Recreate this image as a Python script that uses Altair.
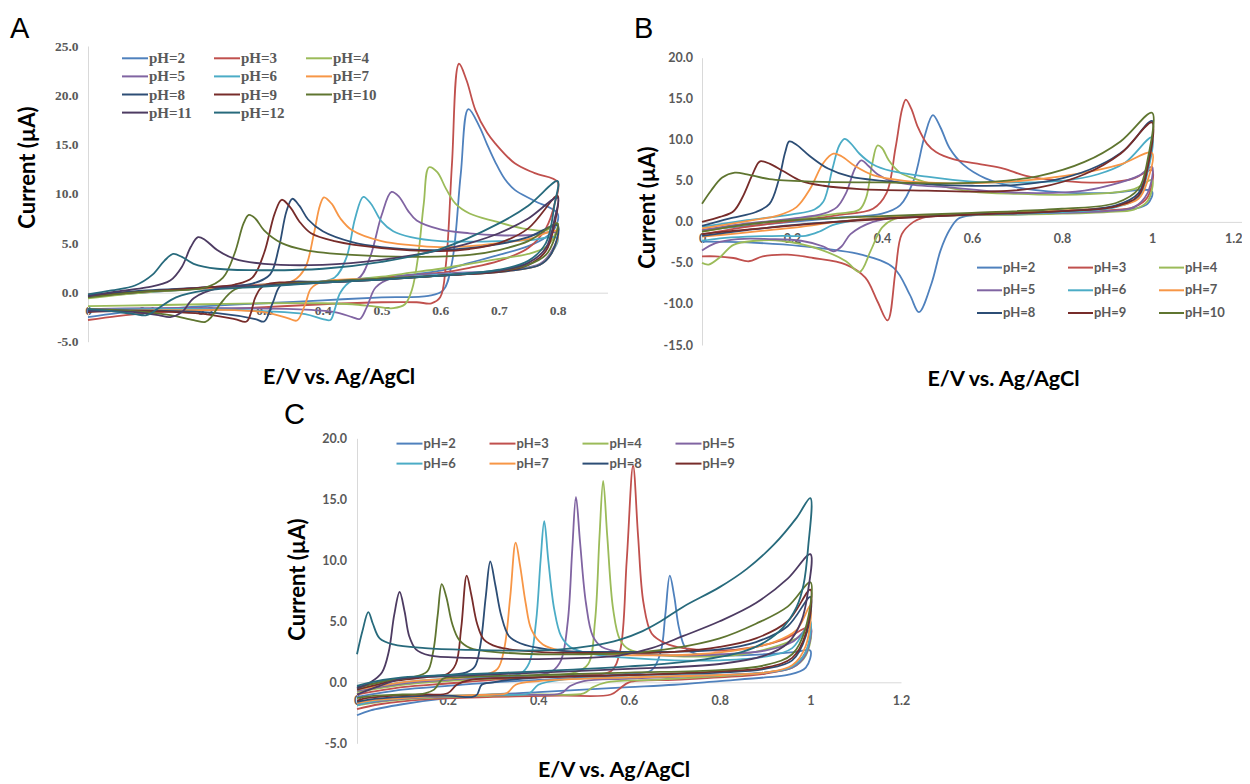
import altair as alt
import pandas as pd

PH_LABELS = ["pH=2", "pH=3", "pH=4", "pH=5", "pH=6", "pH=7", "pH=8", "pH=9",
             "pH=10", "pH=11", "pH=12"]
PH_COLORS = ["#4F81BD", "#C0504D", "#9BBB59", "#8064A2", "#4BACC6", "#F79646",
             "#2C4D75", "#772C2A", "#5F7530", "#4D3B62", "#276A7C"]

# ---------------- Panel A: (E / V, I / uA) in scan order ----------------
A_PH2 = [(0, -2.5), (0.05, -2.1), (0.1, -1.8), (0.2, -1.4), (0.3, -1.1), (0.4, -0.8), (0.5, -0.5),
         (0.58, -0.35), (0.605, 0.2), (0.62, 3), (0.635, 12), (0.648, 18.6), (0.667, 16.8), (0.68, 15),
         (0.694, 13.2), (0.71, 11.5), (0.727, 10.4), (0.76, 9.3), (0.8, 8.0), (0.795, 6.5), (0.78, 5.6),
         (0.75, 4.7), (0.7, 3.8), (0.65, 3.0), (0.6, 2.2), (0.5, 1.5), (0.4, 1.1), (0.3, 0.7), (0.2, 0.4),
         (0.1, 0.0), (0, -0.4)]
A_PH3 = [(0, -2.8), (0.05, -2.4), (0.1, -2.1), (0.2, -1.8), (0.3, -1.5), (0.4, -1.2), (0.5, -1.0),
         (0.56, -1.0), (0.585, -1.1), (0.6, -0.5), (0.61, 3), (0.62, 13), (0.632, 23.2), (0.645, 21.5),
         (0.66, 18.5), (0.68, 16.2), (0.694, 15.1), (0.727, 13.1), (0.761, 12.1), (0.8, 11.2), (0.795, 9.0),
         (0.78, 6.5), (0.75, 4.5), (0.7, 3.2), (0.65, 2.5), (0.6, 2.0), (0.5, 1.5), (0.4, 1.1), (0.3, 0.8),
         (0.2, 0.5), (0.1, 0.1), (0, -0.2)]
A_PH4 = [(0, -1.4), (0.1, -1.3), (0.2, -1.2), (0.3, -1.1), (0.4, -1.1), (0.45, -1.2), (0.49, -1.45),
         (0.52, -1.6), (0.54, -1.2), (0.552, 0.3), (0.562, 3.5), (0.572, 9), (0.581, 12.7), (0.595, 12.2),
         (0.61, 10.5), (0.626, 9.0), (0.65, 8.0), (0.694, 7.2), (0.74, 6.5), (0.78, 6.3), (0.8, 7.0),
         (0.795, 5.8), (0.78, 4.6), (0.75, 3.9), (0.7, 3.4), (0.65, 2.9), (0.6, 2.4), (0.55, 2.0),
         (0.5, 1.6), (0.4, 1.1), (0.3, 0.8), (0.2, 0.4), (0.1, 0.0), (0, -0.6)]
A_PH5 = [(0, -0.4), (0.1, 0.1), (0.2, 0.5), (0.3, 0.8), (0.4, 1.1), (0.46, 1.4), (0.48, 3.5),
         (0.5, 7.8), (0.517, 10.2), (0.53, 9.7), (0.545, 8.3), (0.56, 7.3), (0.6, 6.4), (0.65, 6.0),
         (0.7, 5.8), (0.75, 5.8), (0.8, 6.0), (0.79, 4.2), (0.77, 2.9), (0.72, 2.3), (0.6, 1.9),
         (0.52, 1.5), (0.49, 0.5), (0.475, -1.5), (0.463, -2.7), (0.45, -2.5), (0.42, -2.0), (0.35, -1.7),
         (0.25, -1.6), (0.1, -1.6), (0, -1.7)]
A_PH6 = [(0, -0.4), (0.1, 0.1), (0.2, 0.4), (0.3, 0.7), (0.38, 1.0), (0.42, 1.5), (0.44, 3.5),
         (0.455, 7.5), (0.469, 9.7), (0.482, 9.0), (0.5, 7.2), (0.52, 6.2), (0.55, 5.6), (0.6, 5.2),
         (0.7, 5.2), (0.75, 5.3), (0.8, 5.5), (0.79, 4.0), (0.77, 2.8), (0.72, 2.3), (0.6, 1.8),
         (0.5, 1.4), (0.45, 1.2), (0.43, 0.0), (0.42, -1.8), (0.413, -2.8), (0.4, -2.7), (0.37, -2.2),
         (0.3, -1.9), (0.2, -1.7), (0.1, -1.7), (0, -1.8)]
A_PH7 = [(0, -0.3), (0.1, 0.1), (0.2, 0.4), (0.3, 0.8), (0.35, 1.2), (0.37, 2.5), (0.385, 6.0),
         (0.395, 8.8), (0.402, 9.65), (0.415, 9.0), (0.43, 7.5), (0.45, 6.3), (0.5, 5.2), (0.55, 4.8),
         (0.6, 4.6), (0.65, 4.7), (0.7, 5.0), (0.75, 5.4), (0.8, 6.2), (0.79, 4.0), (0.77, 2.8),
         (0.72, 2.2), (0.6, 1.7), (0.5, 1.4), (0.4, 1.1), (0.38, 0.4), (0.37, -1.2), (0.356, -2.85),
         (0.34, -2.6), (0.3, -2.0), (0.25, -1.8), (0.15, -1.8), (0.05, -1.8), (0, -1.9)]
A_PH8 = [(0, -0.3), (0.1, 0.2), (0.2, 0.5), (0.28, 0.9), (0.31, 1.8), (0.325, 4.5), (0.338, 8.2),
         (0.348, 9.5), (0.36, 8.8), (0.375, 7.4), (0.4, 6.2), (0.45, 5.1), (0.5, 4.6), (0.6, 4.3),
         (0.7, 4.9), (0.75, 5.6), (0.8, 6.8), (0.79, 4.0), (0.77, 2.8), (0.72, 2.2), (0.6, 1.7),
         (0.5, 1.4), (0.4, 1.1), (0.33, 0.8), (0.315, -1.0), (0.3, -2.95), (0.285, -2.7), (0.22, -2.1),
         (0.15, -1.9), (0.05, -1.8), (0, -1.8)]
A_PH9 = [(0, -0.4), (0.1, 0.1), (0.2, 0.5), (0.25, 0.8), (0.28, 1.5), (0.3, 4), (0.318, 8),
         (0.33, 9.4), (0.345, 8.6), (0.36, 7.2), (0.38, 6.0), (0.42, 5.2), (0.5, 4.5), (0.6, 4.2),
         (0.65, 4.4), (0.7, 5.0), (0.75, 6.5), (0.8, 9.8), (0.795, 7), (0.78, 4.2), (0.75, 2.8),
         (0.7, 2.1), (0.6, 1.7), (0.5, 1.3), (0.4, 1.0), (0.3, 0.7), (0.285, -0.5), (0.278, -2.0),
         (0.27, -2.95), (0.25, -2.7), (0.2, -2.2), (0.15, -2.0), (0.1, -1.9), (0.05, -1.9), (0, -2.0)]
A_PH10 = [(0, -0.5), (0.1, 0.1), (0.2, 0.5), (0.23, 1.5), (0.25, 4), (0.265, 7), (0.274, 7.86),
          (0.285, 7.5), (0.3, 6.3), (0.33, 5.0), (0.37, 4.3), (0.45, 3.8), (0.55, 3.6), (0.65, 3.8),
          (0.7, 4.3), (0.75, 5.2), (0.8, 7.0), (0.795, 5.5), (0.78, 3.8), (0.75, 2.8), (0.7, 2.2),
          (0.6, 1.7), (0.5, 1.4), (0.4, 1.1), (0.3, 0.7), (0.25, 0.3), (0.225, -1.2), (0.21, -2.5),
          (0.2, -3.0), (0.18, -2.8), (0.14, -2.3), (0.1, -2.0), (0.05, -1.8), (0, -1.7)]
A_PH11 = [(0, -0.4), (0.05, 0.1), (0.1, 0.5), (0.14, 1.2), (0.16, 2.6), (0.175, 4.6), (0.1875, 5.6),
          (0.2, 5.3), (0.22, 4.3), (0.25, 3.4), (0.3, 2.9), (0.4, 2.8), (0.5, 3.3), (0.6, 4.3),
          (0.65, 5.0), (0.7, 6.0), (0.75, 7.5), (0.8, 9.6), (0.795, 7.5), (0.78, 4.5), (0.75, 3.0),
          (0.7, 2.2), (0.6, 1.7), (0.5, 1.3), (0.4, 1.0), (0.3, 0.7), (0.22, 0.4), (0.18, -0.6),
          (0.16, -2.0), (0.14, -2.5), (0.12, -2.3), (0.08, -2.0), (0.04, -1.9), (0, -1.9)]
A_PH12 = [(0, -0.2), (0.04, 0.2), (0.08, 0.7), (0.11, 1.8), (0.13, 3.2), (0.145, 3.9), (0.16, 3.6),
          (0.18, 2.9), (0.22, 2.4), (0.3, 2.25), (0.4, 2.4), (0.5, 3.1), (0.6, 4.4), (0.7, 7.0),
          (0.75, 8.8), (0.8, 11.3), (0.795, 9), (0.78, 5), (0.75, 3.2), (0.7, 2.3), (0.6, 1.7),
          (0.5, 1.3), (0.4, 1.0), (0.3, 0.6), (0.2, 0.2), (0.15, -0.5), (0.12, -1.6), (0.1, -2.3),
          (0.08, -2.2), (0.04, -1.9), (0, -1.7)]

# ---------------- Panel B ----------------
B_PH2 = [(0, -1.0), (0.1, -0.5), (0.2, 0.0), (0.3, 0.5), (0.4, 1.0), (0.44, 2.0), (0.47, 5.0),
         (0.495, 10.5), (0.513, 13.0), (0.53, 11.5), (0.55, 9.0), (0.58, 7.0), (0.63, 5.3), (0.7, 4.2),
         (0.8, 3.6), (0.9, 3.5), (1.0, 3.7), (0.99, 2.2), (0.96, 1.6), (0.9, 1.3), (0.8, 1.1),
         (0.7, 0.9), (0.6, 0.8), (0.57, 0.4), (0.55, -1.0), (0.53, -3.5), (0.51, -7.5), (0.482, -11.0),
         (0.462, -8.9), (0.426, -5.6), (0.354, -4.0), (0.22, -2.95), (0.1, -2.5), (0, -2.4)]
B_PH3 = [(0, -1.5), (0.1, -0.6), (0.2, 0.1), (0.3, 0.8), (0.38, 1.6), (0.41, 3.5), (0.43, 9),
         (0.445, 13.8), (0.453, 14.9), (0.465, 13.8), (0.48, 11.5), (0.5, 9.5), (0.52, 8.5), (0.56, 7.6),
         (0.62, 7.0), (0.67, 6.5), (0.72, 5.6), (0.8, 5.0), (0.9, 4.8), (0.96, 5.3), (1.0, 6.3),
         (0.99, 3.0), (0.96, 1.8), (0.9, 1.4), (0.8, 1.1), (0.7, 1.0), (0.55, 0.8), (0.49, 0.5),
         (0.47, 0.0), (0.444, -1.5), (0.43, -6.0), (0.4125, -12.0), (0.39, -9.7), (0.363, -6.8),
         (0.32, -5.2), (0.247, -4.4), (0.19, -4.0), (0.135, -4.2), (0.104, -4.8), (0.07, -4.4),
         (0.03, -4.2), (0, -4.2)]
B_PH4 = [(0, -1.2), (0.1, -0.3), (0.2, 0.3), (0.3, 1.0), (0.35, 1.5), (0.365, 3.0), (0.378, 7.0),
         (0.39, 9.3), (0.4, 9.0), (0.415, 7.5), (0.44, 6.0), (0.47, 5.3), (0.52, 4.5), (0.6, 3.7),
         (0.7, 3.4), (0.8, 3.3), (0.9, 3.5), (0.96, 4.0), (1.0, 5.1), (0.99, 2.5), (0.96, 1.5),
         (0.9, 1.2), (0.8, 1.0), (0.7, 0.9), (0.5, 0.7), (0.43, 0.4), (0.4, -0.7), (0.375, -3.5),
         (0.35, -6.1), (0.32, -4.8), (0.265, -3.4), (0.176, -2.3), (0.12, -2.3), (0.07, -2.8),
         (0.04, -4.3), (0.015, -5.2), (0, -5.0)]
B_PH5 = [(0, -1.0), (0.1, -0.2), (0.2, 0.4), (0.27, 1.0), (0.3, 1.8), (0.32, 3.5), (0.34, 6.5),
         (0.354, 7.5), (0.37, 6.8), (0.39, 5.8), (0.42, 5.0), (0.47, 4.5), (0.55, 4.2), (0.65, 3.7),
         (0.75, 3.5), (0.85, 3.8), (0.93, 4.8), (0.97, 5.6), (1.0, 6.7), (0.99, 3.5), (0.96, 1.8),
         (0.9, 1.3), (0.8, 1.1), (0.6, 0.9), (0.45, 0.6), (0.38, 0.0), (0.33, -1.5), (0.31, -3.0),
         (0.292, -3.6), (0.27, -3.0), (0.22, -2.3), (0.15, -2.1), (0.08, -2.1), (0.03, -2.6), (0, -3.5)]
B_PH6 = [(0, -0.6), (0.1, 0.2), (0.2, 0.9), (0.25, 1.5), (0.27, 2.5), (0.29, 6.5), (0.305, 9.3),
         (0.317, 10.1), (0.33, 9.6), (0.35, 8.3), (0.38, 7.0), (0.42, 6.2), (0.5, 5.5), (0.6, 4.9),
         (0.7, 4.8), (0.8, 5.0), (0.88, 5.8), (0.94, 7.2), (1.0, 10.3), (0.99, 6), (0.97, 3),
         (0.92, 1.8), (0.8, 1.2), (0.6, 0.9), (0.4, 0.5), (0.33, 0.1), (0.29, -0.4), (0.26, -1.2),
         (0.23, -1.7), (0.18, -1.7), (0.1, -1.8), (0.04, -2.0), (0, -2.3)]
B_PH7 = [(0, -0.8), (0.1, 0.1), (0.17, 0.8), (0.21, 1.8), (0.24, 4.0), (0.27, 7.2), (0.292, 8.3),
         (0.31, 8.0), (0.34, 6.8), (0.38, 5.7), (0.45, 5.0), (0.55, 4.7), (0.65, 4.8), (0.75, 5.2),
         (0.85, 6.0), (0.93, 7.0), (1.0, 8.4), (0.99, 5), (0.97, 2.8), (0.92, 1.9), (0.8, 1.4),
         (0.6, 1.0), (0.4, 0.5), (0.3, 0.0), (0.22, -0.6), (0.15, -1.0), (0.08, -1.4), (0, -1.8)]
B_PH8 = [(0, -0.5), (0.06, 0.4), (0.12, 1.2), (0.15, 2.2), (0.17, 5.0), (0.185, 8.5), (0.194, 9.8),
         (0.21, 9.4), (0.24, 8.0), (0.28, 6.5), (0.33, 5.5), (0.4, 5.0), (0.5, 4.6), (0.6, 4.4),
         (0.7, 4.5), (0.8, 5.3), (0.88, 6.8), (0.94, 8.8), (1.0, 12.3), (0.99, 7), (0.97, 3.5),
         (0.92, 2.0), (0.8, 1.3), (0.6, 0.9), (0.4, 0.4), (0.2, -0.4), (0.1, -1.0), (0, -1.7)]
B_PH9 = [(0, 0.0), (0.04, 0.6), (0.07, 1.3), (0.09, 3.0), (0.11, 5.5), (0.125, 7.2), (0.131, 7.4),
         (0.15, 7.1), (0.18, 6.2), (0.22, 5.0), (0.27, 4.4), (0.35, 4.0), (0.5, 3.8), (0.65, 3.7),
         (0.75, 4.2), (0.85, 5.8), (0.93, 8.3), (1.0, 12.1), (0.99, 6.5), (0.97, 3.2), (0.92, 1.9),
         (0.8, 1.3), (0.6, 0.9), (0.45, 0.5), (0.3, 0.0), (0.15, -0.7), (0.05, -1.2), (0, -1.5)]
B_PH10 = [(0, 2.2), (0.02, 3.8), (0.045, 5.4), (0.073, 6.0), (0.1, 5.8), (0.15, 5.2), (0.25, 4.9),
          (0.4, 4.8), (0.55, 4.7), (0.65, 4.9), (0.75, 5.6), (0.85, 7.3), (0.93, 9.8), (1.0, 13.3),
          (0.99, 7.5), (0.97, 4.0), (0.92, 2.3), (0.8, 1.6), (0.6, 1.1), (0.4, 0.7), (0.2, 0.2),
          (0.1, -0.3), (0, -1.2)]

# ---------------- Panel C ----------------
C_PH2 = [(0, -1.2), (0.1, -0.6), (0.2, -0.3), (0.3, 0.0), (0.4, 0.2), (0.5, 0.4), (0.6, 0.7),
         (0.65, 1.0), (0.67, 2.5), (0.68, 5.5), (0.69, 8.74), (0.7, 7.0), (0.71, 4.5), (0.725, 2.8),
         (0.75, 2.3), (0.8, 2.2), (0.9, 2.3), (0.97, 2.5), (1.0, 2.6), (0.99, 1.2), (0.95, 0.6),
         (0.9, 0.4), (0.8, 0.1), (0.7, -0.2), (0.6, -0.4), (0.5, -0.6), (0.4, -0.8), (0.3, -1.0),
         (0.2, -1.3), (0.1, -1.8), (0.03, -2.3), (0, -2.7)]
C_PH3 = [(0, -1.0), (0.1, -0.4), (0.2, -0.1), (0.3, 0.2), (0.4, 0.4), (0.5, 0.6), (0.56, 0.9),
         (0.58, 2.5), (0.595, 10), (0.609, 17.75), (0.62, 12), (0.632, 6.5), (0.65, 4.0), (0.68, 3.2),
         (0.72, 2.8), (0.8, 2.6), (0.88, 2.9), (0.94, 3.5), (1.0, 4.5), (0.99, 2.5), (0.96, 1.3),
         (0.9, 0.7), (0.8, 0.4), (0.7, 0.2), (0.6, 0.0), (0.58, -0.5), (0.56, -1.0), (0.45, -1.1),
         (0.3, -1.2), (0.15, -1.4), (0.05, -1.8), (0, -2.2)]
C_PH4 = [(0, -0.8), (0.1, -0.2), (0.2, 0.1), (0.3, 0.3), (0.4, 0.5), (0.48, 0.8), (0.51, 1.5),
         (0.525, 5), (0.535, 12), (0.543, 16.5), (0.552, 12), (0.565, 6), (0.58, 3.5), (0.6, 2.7),
         (0.65, 2.3), (0.75, 2.1), (0.85, 2.3), (0.93, 3.0), (0.97, 3.6), (1.0, 4.2), (0.99, 2.2),
         (0.96, 1.2), (0.9, 0.8), (0.8, 0.5), (0.65, 0.2), (0.55, 0.0), (0.52, -0.4), (0.5, -0.9),
         (0.4, -1.0), (0.3, -1.1), (0.15, -1.3), (0.05, -1.6), (0, -1.9)]
C_PH5 = [(0, -0.7), (0.1, -0.1), (0.2, 0.2), (0.3, 0.4), (0.4, 0.6), (0.43, 0.9), (0.45, 1.8),
         (0.465, 5), (0.475, 11), (0.483, 15.2), (0.492, 11.5), (0.505, 6.5), (0.52, 3.8), (0.54, 2.9),
         (0.6, 2.4), (0.7, 2.2), (0.8, 2.3), (0.9, 2.6), (0.96, 3.3), (1.0, 4.6), (0.99, 2.3),
         (0.96, 1.2), (0.9, 0.8), (0.8, 0.6), (0.6, 0.3), (0.5, 0.1), (0.47, -0.3), (0.45, -0.9),
         (0.35, -1.0), (0.25, -1.1), (0.12, -1.3), (0.04, -1.6), (0, -1.8)]
C_PH6 = [(0, -0.6), (0.1, 0.0), (0.2, 0.3), (0.3, 0.5), (0.36, 0.7), (0.38, 1.6), (0.395, 5),
         (0.405, 10), (0.413, 13.2), (0.422, 10), (0.435, 6), (0.45, 3.8), (0.47, 2.9), (0.52, 2.3),
         (0.6, 2.0), (0.7, 1.8), (0.8, 1.8), (0.9, 2.1), (0.96, 2.8), (1.0, 5.0), (0.99, 2.5),
         (0.96, 1.3), (0.9, 0.8), (0.8, 0.6), (0.6, 0.4), (0.45, 0.2), (0.4, -0.2), (0.38, -0.9),
         (0.3, -1.0), (0.2, -1.1), (0.1, -1.3), (0.03, -1.6), (0, -1.9)]
C_PH7 = [(0, -0.6), (0.1, 0.0), (0.2, 0.3), (0.28, 0.6), (0.31, 1.1), (0.325, 2.8), (0.338, 7),
         (0.35, 11.45), (0.36, 9.5), (0.372, 6.5), (0.385, 4.3), (0.41, 3.1), (0.45, 2.6), (0.55, 2.3),
         (0.65, 2.2), (0.75, 2.3), (0.85, 2.7), (0.92, 3.3), (0.97, 4.3), (1.0, 6.3), (0.99, 3.0),
         (0.96, 1.4), (0.9, 0.8), (0.8, 0.6), (0.6, 0.4), (0.4, 0.1), (0.35, -0.2), (0.33, -0.9),
         (0.3, -1.0), (0.2, -1.1), (0.1, -1.3), (0.03, -1.5), (0, -1.7)]
C_PH8 = [(0, -0.4), (0.08, 0.2), (0.16, 0.5), (0.24, 0.8), (0.26, 1.3), (0.272, 3.0), (0.284, 7),
         (0.294, 9.9), (0.305, 8), (0.318, 5.5), (0.335, 3.8), (0.36, 3.2), (0.42, 2.7), (0.5, 2.5),
         (0.6, 2.5), (0.7, 2.5), (0.8, 2.7), (0.88, 3.3), (0.95, 4.6), (1.0, 7.0), (0.99, 3.8),
         (0.96, 1.8), (0.9, 1.1), (0.8, 0.8), (0.6, 0.6), (0.4, 0.4), (0.3, 0.0), (0.275, -0.2),
         (0.265, -1.0), (0.255, -1.2), (0.2, -1.1), (0.1, -1.2), (0.03, -1.4), (0, -1.6)]
C_PH9 = [(0, -0.6), (0.08, 0.1), (0.15, 0.4), (0.2, 0.7), (0.218, 1.5), (0.23, 4.5), (0.242, 8.74),
         (0.252, 7.2), (0.265, 4.8), (0.28, 3.5), (0.31, 2.9), (0.4, 2.5), (0.5, 2.4), (0.6, 2.4),
         (0.7, 2.5), (0.8, 2.9), (0.88, 3.6), (0.95, 5.0), (1.0, 7.6), (0.99, 4.0), (0.96, 2.0),
         (0.9, 1.2), (0.8, 0.9), (0.6, 0.6), (0.4, 0.4), (0.25, 0.2), (0.22, -0.2), (0.2, -0.9),
         (0.15, -1.0), (0.08, -1.1), (0.02, -1.3), (0, -1.5)]
C_PH10 = [(0, -0.5), (0.06, 0.1), (0.12, 0.4), (0.155, 0.9), (0.168, 2.5), (0.178, 5.5), (0.187, 8.05),
          (0.197, 7.0), (0.21, 4.8), (0.225, 3.5), (0.25, 2.8), (0.3, 2.5), (0.4, 2.3), (0.5, 2.3),
          (0.6, 2.4), (0.7, 2.8), (0.8, 3.6), (0.88, 4.8), (0.95, 6.2), (1.0, 8.2), (0.99, 4.5),
          (0.96, 2.3), (0.9, 1.4), (0.8, 1.0), (0.6, 0.8), (0.4, 0.6), (0.22, 0.4), (0.19, 0.3),
          (0.17, -0.6), (0.15, -0.9), (0.1, -1.0), (0.04, -1.1), (0, -1.3)]
C_PH11 = [(0, -0.5), (0.03, 0.0), (0.055, 0.8), (0.07, 2.5), (0.082, 5.5), (0.094, 7.4), (0.105, 5.8),
          (0.115, 3.8), (0.13, 2.7), (0.16, 2.2), (0.25, 2.0), (0.4, 1.9), (0.5, 2.0), (0.58, 2.2),
          (0.65, 2.8), (0.72, 3.8), (0.8, 5.0), (0.88, 6.5), (0.95, 8.5), (1.0, 10.5), (0.995, 7.5),
          (0.98, 5.0), (0.95, 3.2), (0.9, 2.2), (0.8, 1.5), (0.6, 1.1), (0.4, 0.8), (0.2, 0.5),
          (0.1, 0.3), (0.05, -0.3), (0, -1.0)]
C_PH12 = [(0, 2.3), (0.012, 4.2), (0.025, 5.75), (0.035, 4.8), (0.05, 3.6), (0.08, 3.1), (0.15, 2.8),
          (0.25, 2.65), (0.35, 2.6), (0.45, 2.7), (0.52, 3.0), (0.58, 3.5), (0.63, 4.2), (0.67, 5.0),
          (0.72, 6.2), (0.8, 7.8), (0.86, 9.3), (0.92, 11.3), (0.97, 13.5), (1.0, 15.1), (0.995, 11),
          (0.985, 8), (0.97, 6.2), (0.94, 4.5), (0.9, 3.3), (0.85, 2.5), (0.75, 1.8), (0.6, 1.3),
          (0.4, 0.9), (0.2, 0.6), (0.1, 0.4), (0.03, 0.0), (0, -0.3)]

A_CURVES = [A_PH2, A_PH3, A_PH4, A_PH5, A_PH6, A_PH7, A_PH8, A_PH9, A_PH10, A_PH11, A_PH12]
B_CURVES = [B_PH2, B_PH3, B_PH4, B_PH5, B_PH6, B_PH7, B_PH8, B_PH9, B_PH10]
C_CURVES = [C_PH2, C_PH3, C_PH4, C_PH5, C_PH6, C_PH7, C_PH8, C_PH9, C_PH10, C_PH11, C_PH12]

A_XTICKS = [0, 0.1, 0.2, 0.3, 0.4, 0.5, 0.6, 0.7, 0.8]
A_YTICKS = [-5, 0, 5, 10, 15, 20, 25]
B_XTICKS = [0, 0.2, 0.4, 0.6, 0.8, 1, 1.2]
B_YTICKS = [-15, -10, -5, 0, 5, 10, 15, 20]
C_XTICKS = [0, 0.2, 0.4, 0.6, 0.8, 1, 1.2]
C_YTICKS = [-5, 0, 5, 10, 15, 20]

# legend entries shown in each panel (C lists only pH 2-9)
A_LEGEND = PH_LABELS[:11]
B_LEGEND = PH_LABELS[:9]
C_LEGEND = PH_LABELS[:8]

X_TITLE = "E/V vs. Ag/AgCl"
Y_TITLE = "Current (µA)"

W, H = 1234, 768
GRAY = "#595959"
AXIS_LINE = "#D9D9D9"
TITLE_FONT = "Lato"


def frame(curves):
    rows = []
    for lab, pts in zip(PH_LABELS, curves):
        for k, (e, i) in enumerate(pts):
            rows.append({"pH": lab, "seq": k, "E": e, "I": i})
    return pd.DataFrame(rows)


def legend_frame(labels, ncols, x0, y0, dx, dy, seg):
    rows = []
    for k, lab in enumerate(labels):
        c, r = k % ncols, k // ncols
        lx = x0 + c * dx
        rows.append({"pH": lab, "lx": lx, "lx2": lx + seg, "tx": lx + seg + 1, "ly": y0 + r * dy})
    return pd.DataFrame(rows)


Y_EXPR = "(datum.value < 0 ? '-' : '') + format(abs(datum.value), '.1f')"
X_EXPR = "format(datum.value, '~g')"


def xaxis(values, offset, tx, ty, font, fsize, pad, last_right=False):
    align = "center"
    if last_right:
        align = {"condition": {"test": "datum.value > 1.1", "value": "right"}, "value": "center"}
    return alt.Axis(orient="bottom", offset=offset, values=values, labelExpr=X_EXPR,
                    labelFont=font, labelFontSize=fsize, labelFontWeight="bold", labelColor=GRAY,
                    labelPadding=pad, labelFlush=False, labelOverlap=False, labelAlign=align,
                    ticks=False, grid=False, domainColor=AXIS_LINE, domainWidth=1,
                    title=X_TITLE, titleX=tx, titleY=ty, titleAlign="center", titleBaseline="middle",
                    titleFont=TITLE_FONT, titleFontSize=21.5, titleFontWeight="bold", titleColor="#000000")


def yaxis(values, offset, tx, ty, font, fsize, pad):
    return alt.Axis(orient="left", offset=offset, values=values, labelExpr=Y_EXPR,
                    labelFont=font, labelFontSize=fsize, labelFontWeight="bold", labelColor=GRAY,
                    labelPadding=pad, labelFlush=False, labelOverlap=False,
                    ticks=False, grid=False, domainColor=AXIS_LINE, domainWidth=1,
                    title=Y_TITLE, titleX=tx, titleY=ty, titleAngle=270, titleAlign="center",
                    titleBaseline="middle",
                    titleFont=TITLE_FONT, titleFontSize=22, titleFontWeight="bold", titleColor="#000000")


COLOR_SCALE = alt.Scale(domain=PH_LABELS, range=PH_COLORS)


def panel(df, xdom, xrange, ydom, yrange, xax, yax):
    return alt.Chart(df).mark_line(interpolate="catmull-rom", strokeWidth=1.8).encode(
        x=alt.X("E:Q", scale=alt.Scale(domain=xdom, range=xrange, nice=False, zero=False), axis=xax),
        y=alt.Y("I:Q", scale=alt.Scale(domain=ydom, range=yrange, nice=False, zero=False), axis=yax),
        color=alt.Color("pH:N", scale=COLOR_SCALE, legend=None),
        order=alt.Order("seq:Q"),
    )


PIX_X = alt.Scale(domain=[0, W], range=[0, W], nice=False, zero=False)
PIX_Y = alt.Scale(domain=[0, H], range=[0, H], nice=False, zero=False)


def legend_layer(df, font, fsize):
    base = alt.Chart(df)
    rules = base.mark_rule(strokeWidth=2).encode(
        x=alt.X("lx:Q", scale=PIX_X, axis=None), x2="lx2:Q",
        y=alt.Y("ly:Q", scale=PIX_Y, axis=None),
        color=alt.Color("pH:N", scale=COLOR_SCALE, legend=None),
    )
    texts = base.mark_text(align="left", baseline="middle", font=font, fontSize=fsize,
                           fontWeight="bold", color=GRAY).encode(
        x=alt.X("tx:Q", scale=PIX_X, axis=None),
        y=alt.Y("ly:Q", scale=PIX_Y, axis=None),
        text="pH:N",
    )
    return alt.layer(rules, texts)


panel_a = panel(frame(A_CURVES), [0, 0.885], [80, 599.5], [-5, 25], [333.7, 38],
                xaxis(A_XTICKS, -483.3, 330.6, 84.3, "Liberation Serif", 13.5, 11),
                yaxis(A_YTICKS, -80, -61, 159, "Liberation Serif", 13.5, 10))
panel_b = panel(frame(B_CURVES), [0, 1.2], [694, 1234], [-15, 20], [337, 49.7],
                xaxis(B_XTICKS, -554.1, 995, 158, "Lato", 12.5, 11, last_right=True),
                yaxis(B_YTICKS, -694, -55, 199, "Lato", 12.5, 9.5))
panel_c = panel(frame(C_CURVES), [0, 1.2], [349, 893], [-5, 20], [735.3, 430.3],
                xaxis(C_XTICKS, -93.7, 605.5, 88.4, "Lato", 12.5, 12),
                yaxis(C_YTICKS, -349, -60, 571, "Lato", 12.5, 10.5))

legend_a = legend_layer(legend_frame(A_LEGEND, 3, 114, 50.3, 92, 18.1, 26), "Liberation Serif", 15)
legend_b = legend_layer(legend_frame(B_LEGEND, 3, 969, 259.6, 91, 22.7, 25), "Lato", 13)
legend_c = legend_layer(legend_frame(C_LEGEND, 4, 388.5, 435.6, 93, 20, 26), "Lato", 13)


def letter(t, x, y):
    return alt.Chart(pd.DataFrame({"t": [t]})).mark_text(
        align="left", baseline="alphabetic", font="Liberation Sans", fontSize=29, color="#000000"
    ).encode(text="t:N", x=alt.value(x), y=alt.value(y))


chart = alt.layer(
    panel_a, panel_b, panel_c, legend_a, legend_b, legend_c,
    letter("A", 2, 30), letter("B", 626, 30), letter("C", 276, 416),
).resolve_scale(
    x="independent", y="independent", color="independent"
).resolve_axis(
    x="independent", y="independent"
).properties(
    width=W, height=H, padding=0, background="white"
).configure_view(stroke=None)

chart.save("out.html", embed_options={"renderer": "svg", "actions": False})
